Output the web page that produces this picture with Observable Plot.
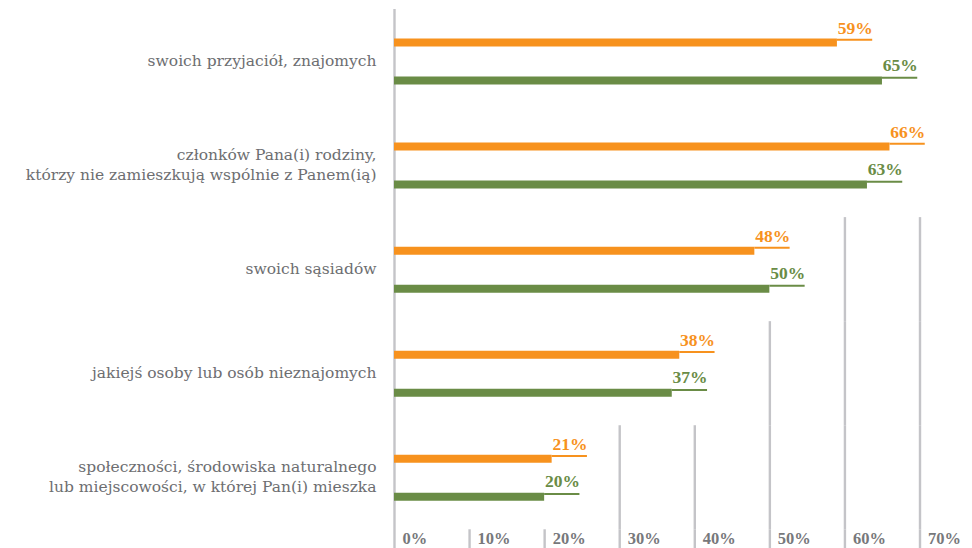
<!DOCTYPE html>
<html>
<head>
<meta charset="utf-8">
<script src="https://cdn.jsdelivr.net/npm/d3@7"></script>
<script src="https://cdn.jsdelivr.net/npm/@observablehq/plot@0.6"></script>
<style>
  html, body { margin: 0; padding: 0; background: #ffffff; }
  #chart { width: 972px; height: 548px; }
</style>
</head>
<body>
<div id="chart"></div>
<script>
// ---- data ----
const categories = [
  "swoich przyjaciół, znajomych",
  "członków Pana(i) rodziny,\nktórzy nie zamieszkują wspólnie z Panem(ią)",
  "swoich sąsiadów",
  "jakiejś osoby lub osób nieznajomych",
  "społeczności, środowiska naturalnego\nlub miejscowości, w której Pan(i) mieszka"
];
const orangeValues = [59, 66, 48, 38, 21];
const greenValues  = [65, 63, 50, 37, 20];
const tickValues = [0, 10, 20, 30, 40, 50, 60, 70];
const tickLabels = ["0%", "10%", "20%", "30%", "40%", "50%", "60%", "70%"];

// ---- styling ----
const ORANGE = "#f7921e";
const GREEN = "#6a8c46";
const GRID = "#c4c4c8";
const TEXT = "#6d6e71";
const LEADER = 4.7; // length of the thin label leader, in axis units
const FONT = "DejaVu Serif";
const NUMFONT = "Liberation Serif";

const orangeRows = categories.map((c, i) => ({cat: c, idx: i, value: orangeValues[i]}));
const greenRows  = categories.map((c, i) => ({cat: c, idx: i, value: greenValues[i]}));

// extent covered by each category's bars + labels
const extents = categories.map((c, i) => Math.max(orangeValues[i], greenValues[i]) + LEADER);
const Y_BOTTOM = 4.68;
// gridline segments: visible in a category band only where it lies clear of that band's bars and labels
const gridSegments = [];
tickValues.filter(t => t > 0).forEach(t => {
  extents.forEach((e, i) => { if (t > e + 1) gridSegments.push({t, y1: i - 0.5, y2: i + 0.5}); });
  gridSegments.push({t, y1: categories.length - 0.5, y2: Y_BOTTOM});
});

const chart = Plot.plot({
  width: 972,
  height: 548,
  marginLeft: 394,
  marginRight: 52.5,
  marginTop: 9,
  marginBottom: 0,
  style: {fontFamily: FONT, background: "#ffffff", overflow: "visible"},
  x: {domain: [0, 70], axis: null},
  y: {domain: [-0.5, Y_BOTTOM], reverse: true, axis: null},
  marks: [
    Plot.ruleX(gridSegments, {x: "t", y1: "y1", y2: "y2", stroke: GRID, strokeWidth: 2.4}),
    Plot.ruleX([0], {stroke: GRID, strokeWidth: 2.4}),
    // bars
    Plot.ruleY(orangeRows, {x1: 0, x2: "value", y: "idx", dy: -19, stroke: ORANGE, strokeWidth: 8}),
    Plot.ruleY(greenRows,  {x1: 0, x2: "value", y: "idx", dy: 19,  stroke: GREEN,  strokeWidth: 8}),
    // leaders
    Plot.ruleY(orangeRows, {x1: "value", x2: d => d.value + LEADER, y: "idx", dy: -21.8, stroke: ORANGE, strokeWidth: 2}),
    Plot.ruleY(greenRows,  {x1: "value", x2: d => d.value + LEADER, y: "idx", dy: 16.2,  stroke: GREEN,  strokeWidth: 2}),
    // value labels
    Plot.text(orangeRows, {x: d => d.value + LEADER, y: "idx", text: d => d.value + "%", dy: -28, lineAnchor: "bottom", textAnchor: "end", fill: ORANGE, fontFamily: NUMFONT, fontSize: 17.5, fontWeight: "bold"}),
    Plot.text(greenRows,  {x: d => d.value + LEADER, y: "idx", text: d => d.value + "%", dy: 9,   lineAnchor: "bottom", textAnchor: "end", fill: GREEN,  fontFamily: NUMFONT, fontSize: 17.5, fontWeight: "bold"}),
    // category labels
    Plot.text(categories, {x: () => 0, y: (d, i) => i, text: d => d, dx: -18, dy: -2, textAnchor: "end", lineAnchor: "middle", lineHeight: 1.3, fill: TEXT, fontSize: 15.5}),
    // x tick labels
    Plot.text(tickValues, {x: d => d, text: (d, i) => tickLabels[i], frameAnchor: "bottom", dx: 8, dy: -5, lineAnchor: "bottom", textAnchor: "start", fill: "#77787b", fontFamily: NUMFONT, fontSize: 16.5, fontWeight: "bold"})
  ]
});
document.getElementById("chart").appendChild(chart);
</script>
</body>
</html>
